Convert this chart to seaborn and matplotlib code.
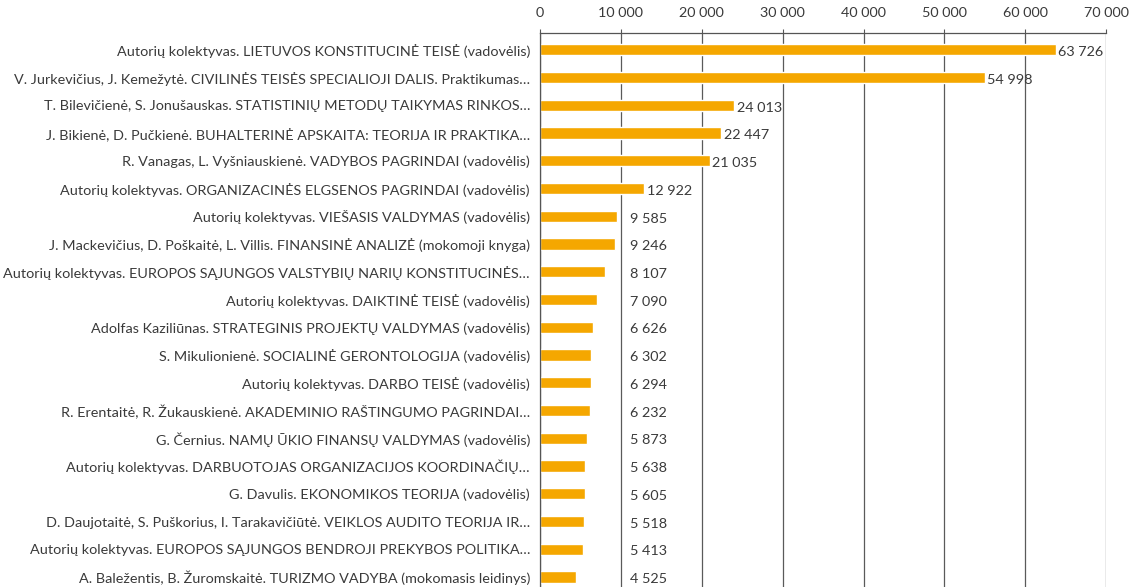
import matplotlib
matplotlib.use("Agg")
import matplotlib.pyplot as plt
import seaborn as sns
import pandas as pd
import numpy as np

titles = [
    "Autorių kolektyvas. LIETUVOS KONSTITUCINĖ TEISĖ (vadovėlis)",
    "V. Jurkevičius, J. Kemežytė. CIVILINĖS TEISĖS SPECIALIOJI DALIS. Praktikumas…",
    "T. Bilevičienė, S. Jonušauskas. STATISTINIŲ METODŲ TAIKYMAS RINKOS…",
    "J. Bikienė, D. Pučkienė. BUHALTERINĖ APSKAITA: TEORIJA IR PRAKTIKA…",
    "R. Vanagas, L. Vyšniauskienė. VADYBOS PAGRINDAI (vadovėlis)",
    "Autorių kolektyvas. ORGANIZACINĖS ELGSENOS PAGRINDAI (vadovėlis)",
    "Autorių kolektyvas. VIEŠASIS VALDYMAS (vadovėlis)",
    "J. Mackevičius, D. Poškaitė, L. Villis. FINANSINĖ ANALIZĖ (mokomoji knyga)",
    "Autorių kolektyvas. EUROPOS SĄJUNGOS VALSTYBIŲ NARIŲ KONSTITUCINĖS…",
    "Autorių kolektyvas. DAIKTINĖ TEISĖ (vadovėlis)",
    "Adolfas Kaziliūnas. STRATEGINIS PROJEKTŲ VALDYMAS (vadovėlis)",
    "S. Mikulionienė. SOCIALINĖ GERONTOLOGIJA (vadovėlis)",
    "Autorių kolektyvas. DARBO TEISĖ (vadovėlis)",
    "R. Erentaitė, R. Žukauskienė. AKADEMINIO RAŠTINGUMO PAGRINDAI…",
    "G. Černius. NAMŲ ŪKIO FINANSŲ VALDYMAS (vadovėlis)",
    "Autorių kolektyvas. DARBUOTOJAS ORGANIZACIJOS KOORDINAČIŲ…",
    "G. Davulis. EKONOMIKOS TEORIJA (vadovėlis)",
    "D. Daujotaitė, S. Puškorius, I. Tarakavičiūtė. VEIKLOS AUDITO TEORIJA IR…",
    "Autorių kolektyvas. EUROPOS SĄJUNGOS BENDROJI PREKYBOS POLITIKA…",
    "A. Baležentis, B. Žuromskaitė. TURIZMO VADYBA (mokomasis leidinys)",
]
values = [63726, 54998, 24013, 22447, 21035, 12922, 9585, 9246, 8107, 7090,
          6626, 6302, 6294, 6232, 5873, 5638, 5605, 5518, 5413, 4525]
xticks = [0, 10000, 20000, 30000, 40000, 50000, 60000, 70000]

def fmt(v):
    return f"{v:,}".replace(",", " ")

df = pd.DataFrame({"title": titles, "value": values})

sns.set_theme(style="white")
plt.rcParams["font.family"] = ["Lato", "DejaVu Sans"]
text_color = "#3a3a3a"

fig = plt.figure(figsize=(11.29, 5.87), dpi=100)
ax = fig.add_axes([0.478, 0.0, 0.502, 0.944])

sns.barplot(data=df, x="value", y="title", orient="h", color="#F5A700",
            width=0.4, ax=ax, saturation=1)

ax.set_xlim(0, 70000)
ax.set_ylim(19.36, -0.61)
ax.xaxis.tick_top()
ax.set_xticks(xticks)
ax.set_xticklabels([fmt(t) for t in xticks], fontsize=10.4, color=text_color)
ax.tick_params(axis="x", length=3, pad=7, color="#555555", width=0.8)
ax.tick_params(axis="y", length=0, pad=7, labelsize=10.4, labelcolor=text_color)
ax.set_xlabel("")
ax.set_ylabel("")
ax.grid(axis="x", color="#5a5a5a", linewidth=0.9)
ax.set_axisbelow(True)
for s in ["right", "bottom"]:
    ax.spines[s].set_visible(False)
ax.spines["top"].set_color("#555555")
ax.spines["left"].set_color("#555555")
ax.spines["top"].set_linewidth(0.9)
ax.spines["left"].set_linewidth(0.9)

for i, v in enumerate(values):
    xpos = max(v, 10900) + 300
    ax.text(xpos, i + 0.08, fmt(v), va="center", ha="left", fontsize=10.4,
            color=text_color)

fig.savefig("out.png", dpi=100)
